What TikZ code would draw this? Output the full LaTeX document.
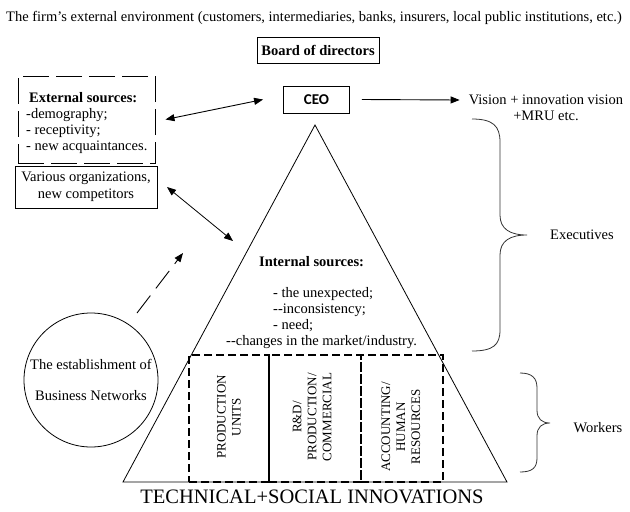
\documentclass[tikz,border=0pt]{standalone}
\usepackage{fontspec}
\setmainfont{Liberation Serif}
\newfontfamily\carlito{Carlito}
\usetikzlibrary{arrows.meta,calc}
\begin{document}
\begin{tikzpicture}[x=1pt,y=-1pt,
  txt/.style={font=\fontsize{14.5}{16}\selectfont, inner sep=0pt},
  box/.style={draw, line width=0.9pt, inner sep=0pt},
  dbox/.style={draw, line width=1.6pt, dash pattern=on 8pt off 4pt, inner sep=0pt},
  rtxt/.style={font=\fontsize{13}{15}\selectfont, rotate=90, align=center, inner sep=0pt},
  arr/.style={line width=0.9pt, -{Triangle[length=9pt,width=7pt]}},
  darr/.style={line width=0.9pt, {Triangle[length=9pt,width=7pt]}-{Triangle[length=9pt,width=7pt]}},
  brace/.style={line width=0.8pt, draw=black!80}]
\useasboundingbox (0,0) rectangle (630,512);

\node[txt] (env) at (314,18) {The firm's external environment (customers, intermediaries, banks, insurers, local public institutions, etc.)};

\node[box, minimum width=122pt, minimum height=26pt, font=\fontsize{14.5}{16}\selectfont\bfseries] (board) at (318,50) {Board of directors};

\node[box, minimum width=66pt, minimum height=27pt, font=\fontsize{15}{17}\carlito\bfseries] (ceo) at (316.5,99.5) {CEO};

% external sources
\node[draw, line width=1pt, dash pattern=on 26pt off 7pt, minimum width=137pt, minimum height=87pt, inner sep=0pt] (extbox) at (86.5,119.5) {};
\node[txt, anchor=north west, align=left] (exttxt) at (26,92) {\hspace*{3pt}\textbf{External sources:}\\-demography;\\- receptivity;\\- new acquaintances.};

\node[box, minimum width=142pt, minimum height=42pt, txt, align=center, font=\fontsize{14.5}{17}\selectfont] (various) at (86,187) {Various organizations,\\new competitors};

\node[txt, align=center] (vision) at (546,108) {Vision + innovation vision\\+MRU etc.};

\draw[darr] ($(extbox.east)+(10,0)$) coordinate (ea) -- ($(ceo.west)+(-20,0)$) coordinate (eb);
\draw[arr] ($(ceo.east)+(12,0)$) coordinate (ca) -- ($(vision.west)+(-9,-8)$) coordinate (cb);

% triangle
\coordinate (apex) at (315,125);
\coordinate (bl) at (123,482);
\coordinate (br) at (507,482);
\draw[line width=0.8pt] (apex) -- (bl) -- (br) -- cycle;

\node[txt, anchor=north west, align=left] (internal) at (226,256) {\hspace*{33pt}\textbf{Internal sources:}\\[15pt]\hspace*{47pt}- the unexpected;\\\hspace*{47pt}-{}-inconsistency;\\\hspace*{47pt}- need;\\-{}-changes in the market/industry.};

% dashed department boxes
\node[dbox, minimum width=80pt, minimum height=127pt] (prod) at (229,418.5) {};
\node[dbox, minimum width=92pt, minimum height=127pt] (rd) at (315,418.5) {};
\node[dbox, minimum width=82pt, minimum height=127pt] (acc) at (402,418.5) {};
\node[rtxt] (prodtxt) at (229,417) {PRODUCTION\\UNITS};
\node[rtxt] (rdtxt) at (312,417) {R\&D/\\PRODUCTION/\\COMMERCIAL};
\node[rtxt] (acctxt) at (401,427) {ACCOUNTING/\\HUMAN\\RESOURCES};

% business networks
\node[draw, circle, line width=0.8pt, minimum size=134pt, inner sep=0pt, txt, align=center] (net) at (91,380) {The establishment of\\[15pt]Business Networks};
\coordinate (dtail) at (137,313);
\coordinate (dtip) at (183,253);
\draw[arr, dash pattern=on 22pt off 9pt] (dtail) -- (dtip);

\coordinate (va) at (167,187);
\coordinate (vb) at (233,241);
\draw[line width=0.8pt, {Triangle[length=9pt,width=7pt]}-{Triangle[length=9pt,width=7pt]}] (va) -- (vb);

% braces
\draw[brace] (472,119) .. controls (493,119) and (500,126) .. (500,142) -- (500,215)
  .. controls (500,229) and (510,235) .. (527,235)
  .. controls (510,235) and (500,241) .. (500,255) -- (500,330)
  .. controls (500,345) and (493,351) .. (472,351);
\node[txt] (exec) at (582,235) {Executives};

\draw[brace] (520,373) .. controls (532,373) and (537,378) .. (537,388) -- (537,410)
  .. controls (537,419) and (542,423) .. (550,423)
  .. controls (542,423) and (537,427) .. (537,436) -- (537,458)
  .. controls (537,468) and (532,472) .. (520,472);
\node[txt] (work) at (598,428) {Workers};

\node[font=\fontsize{20.5}{22}\selectfont, inner sep=0pt] (innov) at (312,497) {TECHNICAL+SOCIAL INNOVATIONS};
\end{tikzpicture}
\end{document}
